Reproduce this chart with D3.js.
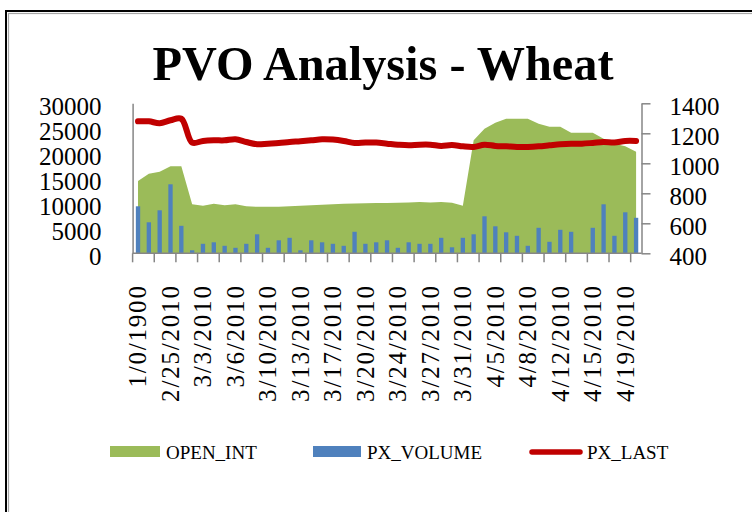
<!DOCTYPE html>
<html>
<head>
<meta charset="utf-8">
<script src="https://cdn.jsdelivr.net/npm/d3@7"></script>
<style>
  html, body { margin: 0; padding: 0; background: #fff; }
  svg { display: block; }
</style>
</head>
<body>
<svg id="chart" width="752" height="512"></svg>
<script>
const categories = ["1/0/1900","2/23/2010","2/24/2010","2/25/2010","2/26/2010","3/1/2010","3/3/2010","3/4/2010","3/5/2010","3/6/2010","3/8/2010","3/9/2010","3/10/2010","3/11/2010","3/12/2010","3/13/2010","3/15/2010","3/16/2010","3/17/2010","3/18/2010","3/19/2010","3/20/2010","3/22/2010","3/23/2010","3/24/2010","3/25/2010","3/26/2010","3/27/2010","3/29/2010","3/30/2010","3/31/2010","4/1/2010","4/2/2010","4/5/2010","4/6/2010","4/7/2010","4/8/2010","4/9/2010","4/10/2010","4/12/2010","4/13/2010","4/14/2010","4/15/2010","4/16/2010","4/17/2010","4/19/2010","4/20/2010"];
const openInt = [14460,15900,16300,17400,17400,9800,9500,9900,9600,9800,9400,9300,9300,9300,9400,9500,9600,9700,9800,9900,9950,10000,10050,10050,10100,10150,10250,10150,10250,10100,9500,22600,24900,26100,26900,26900,26900,25900,25300,25300,24100,24100,24100,22900,21900,21400,20300];
const pxVolume = [9400,6200,8600,13800,5500,600,1900,2200,1500,1100,1900,3800,1100,2600,3100,600,2600,2200,1900,1500,4300,1900,2200,2600,1100,2200,1900,1900,3100,1200,3100,3800,7400,5400,4200,3500,1500,5100,2300,4700,4300,0,5100,9800,3500,8200,7100];
const pxLast = [1280,1280,1267,1287,1297,1138,1149,1153,1153,1160,1142,1127,1131,1135,1142,1147,1153,1160,1158,1149,1135,1138,1138,1131,1124,1120,1124,1124,1116,1122,1113,1109,1124,1116,1113,1109,1109,1113,1120,1127,1131,1131,1136,1142,1138,1149,1149];
const leftTicks = [0,5000,10000,15000,20000,25000,30000];
const rightTicks = [400,600,800,1000,1200,1400];
const seriesNames = ["OPEN_INT","PX_VOLUME","PX_LAST"];
const title = "PVO Analysis - Wheat";

const colors = {open: "#9bbb59", vol: "#4f81bd", last: "#c00000", axis: "#868686"};
const svg = d3.select("#chart");
const plot = {left: 132.6, right: 641.5, top: 103.3, bottom: 253.3};
const serif = "'Liberation Serif', 'Times New Roman', serif";

// frame
svg.append("rect").attr("x", 6).attr("y", 11).attr("width", 800).attr("height", 600)
  .attr("fill", "none").attr("stroke", "#000").attr("stroke-width", 2);
svg.append("rect").attr("x", 8.5).attr("y", 13.5).attr("width", 800).attr("height", 600)
  .attr("fill", "none").attr("stroke", "#a6a6a6").attr("stroke-width", 1.2);

// title
svg.append("text").attr("x", 383).attr("y", 80).attr("text-anchor", "middle")
  .attr("font-family", serif).attr("font-weight", "bold").attr("font-size", 49)
  .attr("textLength", 461).attr("lengthAdjust", "spacingAndGlyphs")
  .text(title);

const x = d3.scaleBand().domain(categories).range([plot.left, plot.right]).padding(0);
const yL = d3.scaleLinear().domain([0, 30000]).range([plot.bottom, plot.top]);
const yR = d3.scaleLinear().domain([400, 1400]).range([plot.bottom, plot.top]);
const cx = d => x(d) + x.bandwidth() / 2;

// area
const area = d3.area().x((d, i) => cx(categories[i])).y0(yL(0)).y1(d => yL(d));
svg.append("path").datum(openInt).attr("d", area).attr("fill", colors.open);

// bars
const bw = x.bandwidth() * 0.4;
svg.append("g").selectAll("rect").data(pxVolume).join("rect")
  .attr("x", (d, i) => cx(categories[i]) - bw / 2)
  .attr("y", d => yL(d))
  .attr("width", bw)
  .attr("height", d => yL(0) - yL(d))
  .attr("fill", colors.vol);

// line
const line = d3.line().x((d, i) => cx(categories[i])).y(d => yR(d)).curve(d3.curveCatmullRom.alpha(0.5));
svg.append("path").datum(pxLast).attr("d", line).attr("fill", "none")
  .attr("stroke", colors.last).attr("stroke-width", 6)
  .attr("stroke-linecap", "round").attr("stroke-linejoin", "round");

// left axis
const gL = svg.append("g").attr("transform", `translate(${plot.left},0)`)
  .call(d3.axisLeft(yL).tickValues(leftTicks).tickSize(0).tickPadding(31).tickFormat(d3.format("d")));
gL.select(".domain").attr("stroke", colors.axis).attr("stroke-width", 1.5);
gL.selectAll("text").attr("font-family", serif).attr("font-size", 25).attr("fill", "#000").attr("dy", "0.43em");

// right axis
const gR = svg.append("g").attr("transform", `translate(${plot.right},0)`)
  .call(d3.axisRight(yR).tickValues(rightTicks).tickSizeInner(9).tickSizeOuter(0).tickPadding(19).tickFormat(d3.format("d")));
gR.select(".domain").attr("stroke", colors.axis).attr("stroke-width", 1.5);
gR.selectAll("line").attr("stroke", colors.axis).attr("stroke-width", 1.5);
gR.selectAll("text").attr("font-family", serif).attr("font-size", 25).attr("fill", "#000").attr("dy", "0.43em");

// bottom axis
const gB = svg.append("g").attr("transform", `translate(0,${plot.bottom})`);
gB.append("line").attr("x1", plot.left).attr("x2", plot.right).attr("y1", 0).attr("y2", 0)
  .attr("stroke", colors.axis).attr("stroke-width", 1.5);
const tickCats = categories.filter((d, i) => i % 2 === 0);
gB.selectAll("line.tk").data(tickCats).join("line").attr("class", "tk")
  .attr("x1", d => x(d)).attr("x2", d => x(d)).attr("y1", 0).attr("y2", 9)
  .attr("stroke", colors.axis).attr("stroke-width", 1.5);
const labelCats = categories.filter((d, i) => i % 3 === 0);
gB.selectAll("text").data(labelCats).join("text")
  .attr("transform", d => `translate(${cx(d)},31) rotate(-90)`)
  .attr("text-anchor", "end").attr("dy", "0.33em")
  .attr("font-family", serif).attr("font-size", 25).attr("letter-spacing", "1.8px").attr("fill", "#000")
  .text(d => d);

// legend
const lg = svg.append("g");
lg.append("rect").attr("x", 110).attr("y", 446).attr("width", 50).attr("height", 11).attr("fill", colors.open);
lg.append("text").attr("x", 166).attr("y", 459).attr("font-family", serif).attr("font-size", 19).text(seriesNames[0]);
lg.append("rect").attr("x", 313).attr("y", 446).attr("width", 48).attr("height", 11).attr("fill", colors.vol);
lg.append("text").attr("x", 367).attr("y", 459).attr("font-family", serif).attr("font-size", 19).text(seriesNames[1]);
lg.append("line").attr("x1", 532).attr("x2", 580).attr("y1", 452).attr("y2", 452)
  .attr("stroke", colors.last).attr("stroke-width", 5.5).attr("stroke-linecap", "round");
lg.append("text").attr("x", 587).attr("y", 459).attr("font-family", serif).attr("font-size", 19).text(seriesNames[2]);
</script>
</body>
</html>
